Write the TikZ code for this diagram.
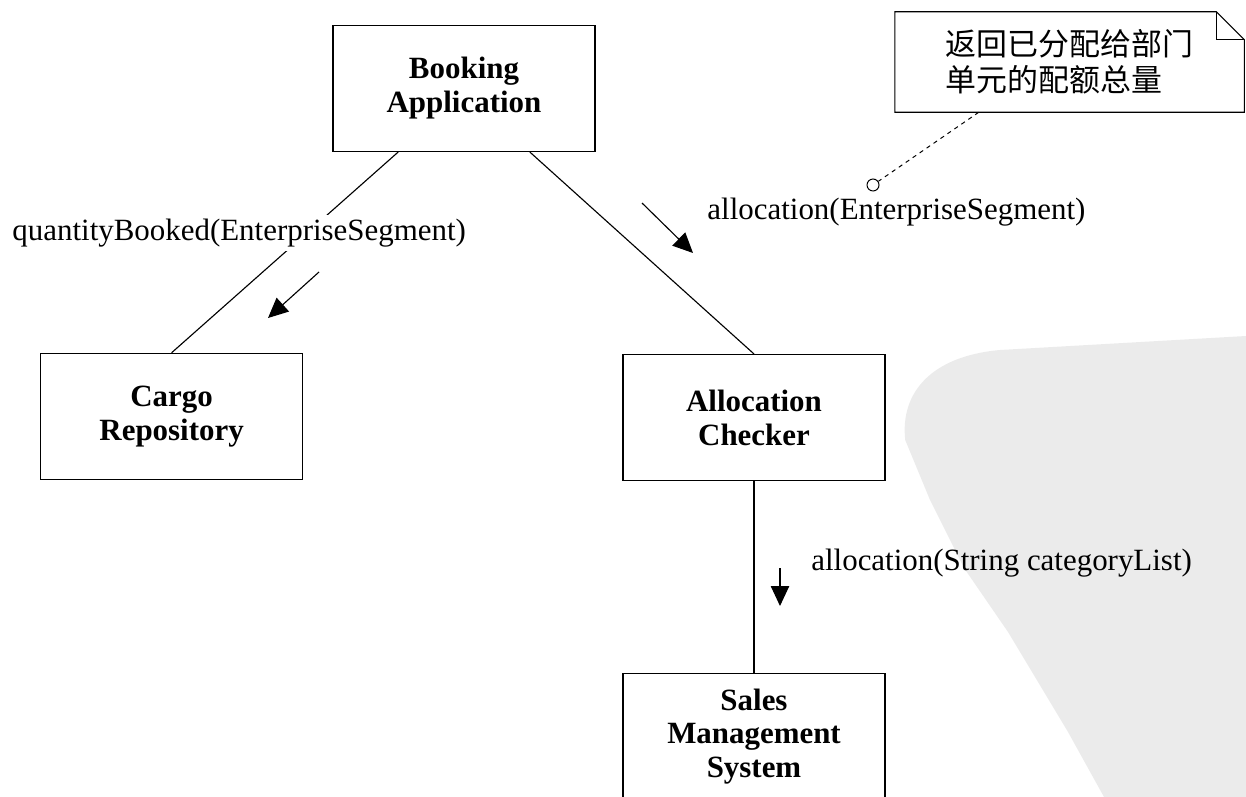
\documentclass[tikz,border=0pt]{standalone}
\usepackage{fontspec}
\setmainfont{Liberation Serif}
\newfontfamily\cjk{Noto Sans CJK SC}
\usetikzlibrary{arrows.meta,calc}

\begin{document}
\begin{tikzpicture}[
  cls/.style={draw, line width=0.9pt, align=center, font=\fontsize{22}{24}\selectfont\bfseries, minimum width=6.55cm, minimum height=3.15cm, inner sep=2pt},
  lab/.style={font=\fontsize{22}{26}\selectfont, inner sep=3pt},
  link/.style={line width=0.8pt},
  arr/.style={-{Triangle[length=5mm, width=4.6mm]}, line width=0.8pt},
  notebox/.style={align=left, font=\cjk\fontsize{22}{25.5}\selectfont, minimum width=8.725cm, minimum height=2.5cm, inner sep=0pt}]
  \useasboundingbox (0,0) rectangle (31.15,-19.925);
  \clip (0,0) rectangle (31.15,-19.925);
  \fill[black!8] (22.63,-11) .. controls (22.5,-9.8) and (23.3,-8.9) .. (25,-8.75) -- (31.15,-8.4) -- (31.15,-19.925) -- (27.6,-19.925) -- (26.7,-18.3) -- (25.2,-15.8) -- (24.1,-14.2) -- (23.25,-12.5) -- cycle;

  \node[cls] (book) at (11.6,-2.21) {Booking\\Application};
  \node[cls] (cargo) at (4.29,-10.41) {Cargo\\Repository};
  \node[cls] (alloc) at (18.85,-10.44) {Allocation\\Checker};
  \node[cls] (sales) at (18.85,-18.41) {Sales\\Management\\System};
  \node[notebox] (note) at (26.74,-1.55) {返回已分配给部门\\单元的配额总量};
  \node[circle, draw, line width=0.7pt, minimum size=0.3cm, inner sep=0pt] (pin) at (21.825,-4.625) {};

  \coordinate (qbtail) at (7.975,-6.8);
  \coordinate (qbtip) at (6.7,-7.95);
  \coordinate (altail) at (16.05,-5.075);
  \coordinate (altip) at (17.325,-6.325);
  \coordinate (cltail) at (19.5,-14.2);
  \coordinate (cltip) at (19.5,-15.15);

  \draw[link] ($(book.south west)!0.25!(book.south east)$) -- (cargo.north);
  \draw[link] ($(book.south west)!0.75!(book.south east)$) -- (alloc.north);
  \draw[link] (alloc.south) -- (sales.north);

  \node[lab, fill=white] (qblab) at (5.98,-5.82) {quantityBooked(EnterpriseSegment)};
  \node[lab] (allab) at (22.41,-5.3) {allocation(EnterpriseSegment)};
  \node[lab] (cllab) at (25.04,-14.075) {allocation(String categoryList)};

  \draw[arr] (qbtail) -- (qbtip);
  \draw[arr] (altail) -- (altip);
  \draw[arr] (cltail) -- (cltip);

  \draw[line width=0.8pt] (note.south west) -- (note.north west) -- ($(note.north east)+(-0.7,0)$) -- ($(note.north east)+(0,-0.7)$) -- (note.south east) -- cycle;
  \draw[line width=0.8pt] ($(note.north east)+(-0.7,0)$) |- ($(note.north east)+(0,-0.7)$);
  \draw[dashed, line width=0.7pt] ($(note.south west)!0.24!(note.south east)$) -- (pin);
\end{tikzpicture}
\end{document}
